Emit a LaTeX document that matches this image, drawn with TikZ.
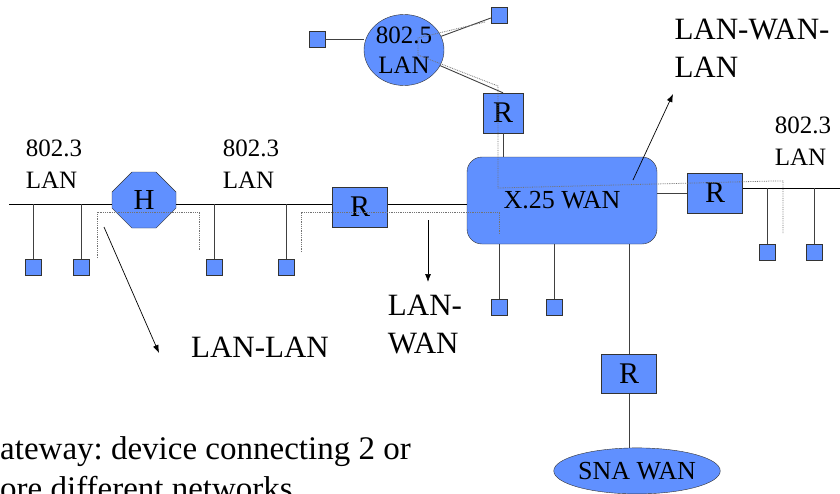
\documentclass[tikz,border=0pt]{standalone}
\usepackage{fontspec}
\setmainfont{Liberation Serif}
\usetikzlibrary{arrows.meta,positioning,shapes.geometric,shapes.misc}
\definecolor{netblue}{HTML}{6090FF}
\definecolor{edge}{HTML}{333333}
\frenchspacing

\begin{document}
\begin{tikzpicture}[
 x=1pt,y=-1pt,
 host/.style={draw=edge,fill=netblue,minimum size=16pt,inner sep=0pt},
 router/.style={draw=edge,fill=netblue,minimum width=55pt,minimum height=40pt,inner sep=0pt,font=\fontsize{30}{30}\selectfont},
 hubbox/.style={chamfered rectangle,chamfered rectangle xsep=15pt,chamfered rectangle ysep=16pt,draw=edge,fill=netblue,minimum width=64pt,minimum height=56pt,inner sep=0pt,font=\fontsize{29}{29}\selectfont},
 wanbox/.style={draw=edge,fill=netblue,rounded corners=15pt,minimum width=190pt,minimum height=87pt,font=\fontsize{26}{26}\selectfont},
 ringlan/.style={ellipse,draw=edge,fill=netblue,minimum width=80pt,minimum height=71pt,inner sep=0pt,align=center,font=\fontsize{25}{30}\selectfont},
 snalan/.style={ellipse,draw=edge,fill=netblue,minimum width=166pt,minimum height=46pt,inner sep=0pt,font=\fontsize{26}{26}\selectfont},
 lanlabel/.style={align=left,inner sep=0pt,font=\fontsize{25}{32}\selectfont},
 biglabel/.style={align=left,inner sep=0pt,font=\fontsize{31}{38}\selectfont},
 note/.style={anchor=base west,inner sep=0pt,font=\fontsize{33}{40}\selectfont},
 bus/.style={line width=0.9pt,black},
 drop/.style={line width=0.9pt,black!75},
 route/.style={densely dotted,line width=0.8pt,black!55},
 pointer/.style={-{Latex[length=8pt,width=6pt]},line width=0.7pt,black}
]
\useasboundingbox (0,0) rectangle (840,493);
\clip (0,0) rectangle (840,493);

% bus ends
\coordinate (busL) at (9,204);
\coordinate (busR) at (840,188);

% network devices
\node[hubbox] (hub) at (144,200) {H};
\node[router] (rmid) at (360,207) {R};
\node[wanbox] (wan) at (562,200.5) {X.25 WAN};
\node[ringlan] (ring) at (404,50) {802.5\\LAN};
\node[router,minimum width=40pt] (rtop) at (503,113) {R};
\node[router] (rright) at (715,193) {R};
\node[router,minimum height=39pt] (rsna) at (629,374) {R};
\node[snalan,below=54pt of rsna,xshift=8pt] (sna) {SNA WAN};

% hosts
\foreach \n/\x in {1/33,2/81,3/214,4/286}
  \node[host] (h\n) at (\x,267) {};
\node[host] (w1) at (499,307) {};
\node[host,right=39pt of w1] (w2) {};
\node[host] (r1) at (767,252) {};
\node[host,right=31pt of r1] (r2) {};
\node[host] (t1) at (317,39) {};
\node[host] (t2) at (499,15) {};

% cabling
\draw[bus] (busL) -- (hub.west |- busL);
\draw[bus] (hub.east |- busL) -- (rmid.west |- busL);
\draw[bus] (rmid.east |- busL) -- (wan.west |- busL);
\draw[bus] (rright.east |- busR) -- (busR);
\foreach \h in {h1,h2,h3,h4}
  \draw[drop] (\h) -- (\h |- busL);
\foreach \h in {w1,w2}
  \draw[drop] (\h) -- (\h |- wan.south);
\foreach \h in {r1,r2}
  \draw[drop] (\h) -- (\h |- busR);
\draw[drop] (t1) -- (ring.west |- t1);
\draw[drop] (ring) -- (t2);
\draw[drop] (ring) -- (rtop.north);
\draw[drop] (rtop) -- (rtop |- wan.north);
\draw[drop] (wan.east |- rright) -- (rright);
\draw[drop] (rsna) -- (rsna |- wan.south);
\draw[drop] (rsna) -- (rsna |- sna.north);

% traffic routes
\draw[route] (97,258) -- (97,212) -- (199,212) -- (199,250);
\draw[route] (301,252) -- (301,212) -- (499,212) -- (499,234);
\draw[route] (485,22) -- (418,38) -- (418,55) -- (498,86) -- (498,188)
  -- (773,181) -- (783,181) -- (783,234);

% labels
\node[lanlabel] (lanA) at (54,164) {802.3\\LAN};
\node[lanlabel] (lanB) at (251,164) {802.3\\LAN};
\node[lanlabel] (lanC) at (803,141) {802.3\\LAN};
\node[biglabel] (lanlan) at (260,347) {LAN-LAN};
\node[biglabel] (lanwan) at (425,324) {LAN-\\WAN};
\node[biglabel] (lanwanlan) at (752,48) {LAN-WAN-\\LAN};
\node[note] (gwA) at (0,459) {ateway: device connecting 2 or};
\node[note] (gwB) at (0,499) {ore different networks};

% pointers
\coordinate (llS) at (104,227);
\coordinate (llE) at (159,353);
\coordinate (lwS) at (428,220);
\coordinate (lwE) at (428,282);
\coordinate (lwlS) at (633,180);
\coordinate (lwlE) at (673,94);
\draw[pointer] (llS) -- (llE);
\draw[pointer] (lwS) -- (lwE);
\draw[pointer] (lwlS) -- (lwlE);
\end{tikzpicture}
\end{document}
